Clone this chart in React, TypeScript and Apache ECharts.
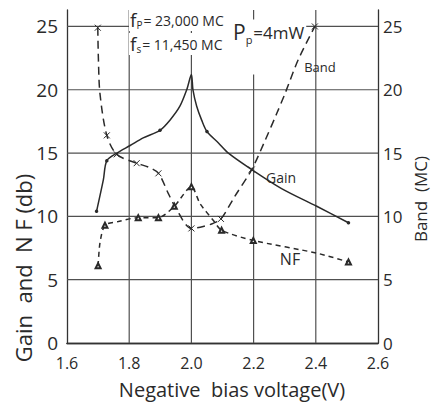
import React, { useEffect, useRef } from "react";
import * as echarts from "echarts";

// x: negative bias voltage (V)
const gainX = [1.695, 1.717, 1.728, 1.76, 1.803, 1.845, 1.899, 1.931, 1.963, 1.985, 2.0, 2.005, 2.017, 2.033, 2.05, 2.087, 2.119, 2.194, 2.29, 2.403, 2.505];
const gainY = [10.4, 12.9, 14.4, 15.0, 15.6, 16.2, 16.8, 17.6, 18.7, 20.0, 21.2, 20.0, 18.7, 17.6, 16.7, 15.8, 15.0, 13.7, 12.2, 10.8, 9.5];
const gainMarked = [true, false, true, false, false, false, true, false, false, false, false, false, false, false, true, false, false, false, false, false, true];

const bandX = [1.699, 1.701, 1.706, 1.728, 1.76, 1.824, 1.861, 1.894, 1.926, 1.947, 2.0, 2.038, 2.07, 2.095, 2.14, 2.194, 2.237, 2.274, 2.301, 2.344, 2.397];
const bandY = [24.9, 22.4, 19.7, 16.4, 14.9, 14.2, 13.9, 13.4, 11.8, 10.8, 9.05, 9.2, 9.45, 9.8, 11.6, 13.7, 16.0, 18.1, 19.7, 22.4, 25.0];
const bandMarked = [true, false, false, true, true, true, false, true, false, false, true, false, false, true, false, true, false, false, false, false, true];

const nfX = [1.7, 1.706, 1.722, 1.765, 1.829, 1.894, 1.945, 2.0, 2.028, 2.07, 2.097, 2.199, 2.403, 2.505];
const nfY = [6.1, 7.9, 9.3, 9.6, 9.9, 9.9, 10.8, 12.35, 11.0, 9.7, 8.9, 8.1, 7.1, 6.4];
const nfMarked = [true, false, true, false, true, true, true, true, false, false, true, true, false, true];

// grid line positions (tick values)
const xGrid = [1.8, 2.0, 2.2, 2.4];
const yGrid = [5, 10, 15, 20, 25];

const xMin = 1.6;
const xMax = 2.6;
const xStep = 0.2;
const yMin = 0;
const yMax = 26.3;
const yStep = 5;

const FONT = "'Open Sans', 'DejaVu Sans', sans-serif";
const INK = "#2a2a2a";
const GRIDC = "#505050";

function build(xs: number[], ys: number[], marked: boolean[]) {
  return xs.map((x, i) =>
    marked[i] ? { value: [x, ys[i]] } : { value: [x, ys[i]], symbol: "none" }
  );
}

function gridSeries(data: number[][]) {
  return {
    type: "line",
    xAxisIndex: 0,
    yAxisIndex: 0,
    data,
    symbol: "none",
    silent: true,
    z: 3,
    emphasis: { disabled: true },
    lineStyle: { color: GRIDC, width: 1.2, type: "solid" },
  };
}

export default function App() {
  const ref = useRef<HTMLDivElement>(null);
  useEffect(() => {
    if (!ref.current) return;
    const chart = echarts.init(ref.current, undefined, { renderer: "svg" });
    const yLabel = (v: number) => (Math.abs(v % 5) < 1e-6 ? String(v) : "");
    const mkFrame = () => ({ show: true, lineStyle: { color: "#333", width: 1.3 } });
    const option: any = {
      animation: false,
      grid: { left: 67, right: 57, top: 10, bottom: 60 },
      xAxis: [
        {
          type: "value",
          min: xMin,
          max: xMax,
          interval: xStep,
          position: "bottom",
          axisLine: mkFrame(),
          axisTick: { show: false },
          axisLabel: {
            color: INK,
            fontFamily: FONT,
            fontSize: 16,
            lineHeight: 16,
            margin: 12,
            formatter: (v: number) => v.toFixed(1),
          },
          splitLine: { show: false },
        },
        {
          type: "value",
          min: xMin,
          max: xMax,
          interval: xStep,
          position: "top",
          axisLine: mkFrame(),
          axisTick: { show: false },
          axisLabel: { show: false },
          splitLine: { show: false },
        },
      ],
      yAxis: [
        {
          type: "value",
          min: yMin,
          max: yMax,
          interval: yStep,
          position: "left",
          axisLine: mkFrame(),
          axisTick: { show: false },
          axisLabel: { color: INK, fontFamily: FONT, fontSize: 19, margin: 9, formatter: yLabel },
          splitLine: { show: false },
        },
        {
          type: "value",
          min: yMin,
          max: yMax,
          interval: yStep,
          position: "right",
          axisLine: mkFrame(),
          axisTick: { show: false },
          axisLabel: { color: INK, fontFamily: FONT, fontSize: 17, lineHeight: 16, margin: 5, formatter: yLabel },
          splitLine: { show: false },
        },
      ],
      series: [
        ...xGrid.map((v) => gridSeries([[v, yMin], [v, yMax]])),
        ...yGrid.map((v) => gridSeries([[xMin, v], [xMax, v]])),
        {
          name: "Gain",
          type: "line",
          xAxisIndex: 0,
          yAxisIndex: 0,
          data: build(gainX, gainY, gainMarked),
          smooth: 0.3,
          symbol: "circle",
          symbolSize: 3.5,
          itemStyle: { color: INK },
          lineStyle: { color: INK, width: 1.5 },
          z: 5,
        },
        {
          name: "Band",
          type: "line",
          xAxisIndex: 0,
          yAxisIndex: 1,
          data: build(bandX, bandY, bandMarked),
          smooth: 0.3,
          symbol: "path://M0,0L10,10M10,0L0,10",
          symbolSize: 6,
          itemStyle: { color: "rgba(0,0,0,0)", borderColor: INK, borderWidth: 1 },
          lineStyle: { color: INK, width: 1.5, type: [8, 5] },
          z: 5,
        },
        {
          name: "NF",
          type: "line",
          xAxisIndex: 0,
          yAxisIndex: 0,
          data: build(nfX, nfY, nfMarked),
          smooth: 0.25,
          symbol: "emptyTriangle",
          symbolSize: 5,
          itemStyle: { color: INK, borderColor: INK, borderWidth: 1 },
          lineStyle: { color: INK, width: 1.5, type: [5, 4] },
          z: 5,
        },
      ],
      graphic: [
        {
          type: "text", z: 4, x: 129, y: 20,
          style: {
            text: "{a|f}{b|P}{c|= 23,000 MC}", fill: INK, fontFamily: FONT, verticalAlign: "middle",
            backgroundColor: "#fff", padding: [0, 10, 0, 1],
            rich: {
              a: { fontSize: 19, lineHeight: 22, fontFamily: FONT, fill: INK },
              b: { fontSize: 10, fontFamily: FONT, fill: INK, padding: [10, 1, 0, 0] },
              c: { fontSize: 14, fontFamily: FONT, fill: INK },
            },
          },
        },
        {
          type: "text", z: 4, x: 129, y: 44,
          style: {
            text: "{a|f}{b|s}{c|= 11,450 MC}", fill: INK, fontFamily: FONT, verticalAlign: "middle",
            backgroundColor: "#fff", padding: [0, 3, 0, 1],
            rich: {
              a: { fontSize: 19, lineHeight: 22, fontFamily: FONT, fill: INK },
              b: { fontSize: 10, fontFamily: FONT, fill: INK, padding: [10, 1, 0, 0] },
              c: { fontSize: 14, fontFamily: FONT, fill: INK },
            },
          },
        },
        {
          type: "text", z: 4, x: 232, y: 47,
          style: {
            text: "{a|P}{b|p}{c|=4mW}", fill: INK, fontFamily: FONT, verticalAlign: "middle",
            backgroundColor: "#fff", padding: [0, 2, 30, 1],
            rich: {
              a: { fontSize: 21, fontFamily: FONT, fill: INK },
              b: { fontSize: 11, fontFamily: FONT, fill: INK, padding: [14, 1, 0, 0] },
              c: { fontSize: 17, fontFamily: FONT, fill: INK },
            },
          },
        },
        { type: "text", z: 10, x: 320, y: 67, style: { text: "Band", fontSize: 13, fontFamily: FONT, fill: INK, align: "center", verticalAlign: "middle" } },
        { type: "text", z: 10, x: 281, y: 177, style: { text: "Gain", fontSize: 14, fontFamily: FONT, fill: INK, align: "center", verticalAlign: "middle" } },
        { type: "text", z: 10, x: 290, y: 259, style: { text: "NF", fontSize: 16, fontFamily: FONT, fill: INK, align: "center", verticalAlign: "middle" } },
        { type: "text", z: 10, x: 232, y: 389, style: { text: "Negative  bias voltage(V)", fontSize: 20, fontFamily: FONT, fill: INK, align: "center", verticalAlign: "middle" } },
        { type: "text", z: 10, x: 23, y: 268, rotation: Math.PI / 2, style: { text: "Gain  and  N F (db)", fontSize: 22, fontFamily: FONT, fill: INK, align: "center", verticalAlign: "middle" } },
        { type: "text", z: 10, x: 420, y: 199, rotation: Math.PI / 2, style: { text: "Band  (MC)", fontSize: 17, fontFamily: FONT, fill: INK, align: "center", verticalAlign: "middle" } },
      ],
    };
    chart.setOption(option);
    return () => chart.dispose();
  }, []);
  return <div ref={ref} style={{ width: 435, height: 403, position: "absolute", left: 0, top: 0 }} />;
}
